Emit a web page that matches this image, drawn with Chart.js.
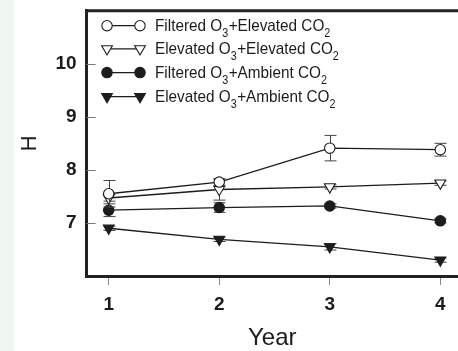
<!DOCTYPE html>
<html>
<head>
<meta charset="utf-8">
<script src="https://cdn.jsdelivr.net/npm/chart.js@4"></script>
<style>
  html, body { margin: 0; padding: 0; background: #ffffff; overflow: hidden; }
  canvas { display: block; }
</style>
</head>
<body>
<canvas id="chart" width="458" height="351"></canvas>
<script>
// Years of exposure and mean H for each O3 x CO2 treatment
const years = [1, 2, 3, 4];
const yTicks = [7, 8, 9, 10];

const filteredElevated = [7.55, 7.77, 8.41, 8.38];
const elevatedElevated = [7.47, 7.63, 7.68, 7.75];
const filteredAmbient  = [7.24, 7.29, 7.32, 7.04];
const elevatedAmbient  = [6.90, 6.69, 6.55, 6.30];

// Standard errors
const seFilteredElevated = [0.25, 0.06, 0.24, 0.12];
const seElevatedElevated = [0.06, 0.20, 0.04, 0.04];
const seFilteredAmbient  = [0.12, 0.09, 0.04, 0.04];
const seElevatedAmbient  = [0.04, 0.04, 0.06, 0.04];

// Legend labels: [text, kind] segments, kind 'sub' marks a subscript
const legendLabels = [
  [['Filtered O', ''], ['3', 'sub'], ['+Elevated CO', ''], ['2', 'sub']],
  [['Elevated O', ''], ['3', 'sub'], ['+Elevated CO', ''], ['2', 'sub']],
  [['Filtered O', ''], ['3', 'sub'], ['+Ambient CO', ''], ['2', 'sub']],
  [['Elevated O', ''], ['3', 'sub'], ['+Ambient CO', ''], ['2', 'sub']]
];

const INK = '#1c1c1c';

function series(values, errors, style, filled) {
  return {
    data: years.map((x, i) => ({ x: x, y: values[i] })),
    errors: errors,
    borderColor: INK,
    borderWidth: 1.3,
    pointStyle: style,
    pointRotation: style === 'triangle' ? 180 : 0,
    pointRadius: style === 'triangle' ? 6.2 : 5.2,
    pointHoverRadius: style === 'triangle' ? 6.2 : 5.2,
    pointBackgroundColor: filled ? INK : '#ffffff',
    pointBorderColor: INK,
    pointBorderWidth: 1.1,
    fill: false,
    tension: 0
  };
}

const datasets = [
  series(filteredElevated, seFilteredElevated, 'circle', false),
  series(elevatedElevated, seElevatedElevated, 'triangle', false),
  series(filteredAmbient, seFilteredAmbient, 'circle', true),
  series(elevatedAmbient, seElevatedAmbient, 'triangle', true)
];

// Light side band, inward y tick marks and the frame's top edge
const framePlugin = {
  id: 'frame',
  beforeDraw(chart) {
    const ctx = chart.ctx;
    ctx.save();
    ctx.fillStyle = '#eff7f3';
    ctx.fillRect(0, 0, 14, chart.height);
    ctx.restore();
  },
  afterDraw(chart) {
    const { ctx, chartArea } = chart;
    const ys = chart.scales.y;
    ctx.save();
    ctx.strokeStyle = '#777';
    ctx.lineWidth = 1;
    yTicks.forEach(v => {
      const py = Math.round(ys.getPixelForValue(v)) + 0.5;
      ctx.beginPath();
      ctx.moveTo(chartArea.left, py);
      ctx.lineTo(chartArea.left + 9, py);
      ctx.stroke();
    });
    ctx.strokeStyle = '#222';
    ctx.lineWidth = 3;
    ctx.beginPath();
    ctx.moveTo(chartArea.left - 1.5, chartArea.top);
    ctx.lineTo(chartArea.right, chartArea.top);
    ctx.stroke();
    ctx.restore();
  }
};

// Vertical error bars with caps, drawn under each series' own markers
const errorBarPlugin = {
  id: 'errorBars',
  beforeDatasetDraw(chart, args) {
    const ds = chart.data.datasets[args.index];
    const ys = chart.scales.y;
    const ctx = chart.ctx;
    ctx.save();
    ctx.strokeStyle = '#444';
    ctx.lineWidth = 1;
    args.meta.data.forEach((pt, i) => {
      const v = ds.data[i].y;
      const e = ds.errors[i];
      const top = ys.getPixelForValue(v + e);
      const bot = ys.getPixelForValue(v - e);
      const x = Math.round(pt.x) + 0.5;
      ctx.beginPath();
      ctx.moveTo(x, top);
      ctx.lineTo(x, bot);
      ctx.moveTo(x - 6, top);
      ctx.lineTo(x + 6, top);
      ctx.moveTo(x - 6, bot);
      ctx.lineTo(x + 6, bot);
      ctx.stroke();
    });
    ctx.restore();
  }
};

function drawMarker(ctx, ds, px, py) {
  const r = ds.pointRadius;
  ctx.fillStyle = ds.pointBackgroundColor;
  ctx.strokeStyle = INK;
  ctx.lineWidth = ds.pointBorderWidth;
  ctx.beginPath();
  if (ds.pointStyle === 'circle') {
    ctx.arc(px, py, r, 0, Math.PI * 2);
  } else {
    let a = Math.PI;
    ctx.moveTo(px + Math.sin(a) * r, py - Math.cos(a) * r);
    a += Math.PI * 2 / 3;
    ctx.lineTo(px + Math.sin(a) * r, py - Math.cos(a) * r);
    a += Math.PI * 2 / 3;
    ctx.lineTo(px + Math.sin(a) * r, py - Math.cos(a) * r);
    ctx.closePath();
  }
  ctx.fill();
  ctx.stroke();
}

// Legend with subscripted chemical formulas, set in a condensed face
const legendPlugin = {
  id: 'subLegend',
  afterDraw(chart) {
    const ctx = chart.ctx;
    const x0 = 107, x1 = 140, textX = 155;
    const baselines = [30.7, 53.8, 77.6, 101.6];
    const squeeze = 0.9;
    ctx.save();
    legendLabels.forEach((segs, i) => {
      const ds = chart.data.datasets[i];
      const yb = baselines[i];
      const ym = yb - 5;
      ctx.strokeStyle = INK;
      ctx.lineWidth = 1.3;
      ctx.beginPath();
      ctx.moveTo(x0, ym);
      ctx.lineTo(x1, ym);
      ctx.stroke();
      drawMarker(ctx, ds, x0, ym);
      drawMarker(ctx, ds, x1, ym);

      ctx.save();
      ctx.translate(textX, 0);
      ctx.scale(squeeze, 1);
      let tx = 0;
      ctx.fillStyle = INK;
      ctx.textBaseline = 'alphabetic';
      ctx.textAlign = 'left';
      segs.forEach(([txt, kind]) => {
        if (kind === 'sub') {
          ctx.font = '12px "Liberation Sans", Arial, sans-serif';
          ctx.fillText(txt, tx, yb + 6);
          tx += ctx.measureText(txt).width + 0.5;
        } else {
          ctx.font = '17px "Liberation Sans", Arial, sans-serif';
          ctx.fillText(txt, tx, yb);
          tx += ctx.measureText(txt).width;
        }
      });
      ctx.restore();
    });
    ctx.restore();
  }
};

new Chart(document.getElementById('chart'), {
  type: 'line',
  data: { datasets: datasets },
  plugins: [framePlugin, errorBarPlugin, legendPlugin],
  options: {
    responsive: false,
    animation: false,
    devicePixelRatio: 1,
    layout: { autoPadding: false, padding: { top: 10.7, left: 0, right: 0, bottom: 0 } },
    plugins: { legend: { display: false }, tooltip: { enabled: false } },
    scales: {
      x: {
        type: 'linear',
        min: 0.8,
        max: 4.16,
        afterFit(s) { s.height = 75; s.paddingLeft = 0; s.paddingRight = 0; },
        afterBuildTicks(s) { s.ticks = years.map(v => ({ value: v })); },
        grid: { display: true, drawOnChartArea: false, drawTicks: true, tickLength: 9, color: '#888', lineWidth: 1 },
        border: { display: true, width: 3, color: '#222' },
        ticks: {
          padding: 8,
          color: INK,
          font: { family: '"Liberation Sans", Arial, sans-serif', size: 19, weight: 'bold' },
          callback: v => String(v)
        },
        title: {
          display: true,
          text: 'Year',
          color: INK,
          font: { family: '"Liberation Sans", Arial, sans-serif', size: 24, lineHeight: 1 },
          padding: { top: 0, bottom: 1 }
        }
      },
      y: {
        type: 'linear',
        min: 6,
        max: 11,
        afterFit(s) { s.width = 86.6; s.paddingTop = 0; s.paddingBottom = 0; },
        afterBuildTicks(s) { s.ticks = yTicks.map(v => ({ value: v })); },
        grid: { display: false, drawTicks: false },
        border: { display: true, width: 3, color: '#222' },
        ticks: {
          padding: 10,
          color: INK,
          font: { family: '"Liberation Sans", Arial, sans-serif', size: 19, weight: 'bold' },
          callback: v => String(v)
        },
        title: {
          display: true,
          text: 'H',
          color: INK,
          font: { family: '"Liberation Sans", Arial, sans-serif', size: 22, lineHeight: 1 },
          padding: { top: 19, bottom: 0 }
        }
      }
    }
  }
});
</script>
</body>
</html>
